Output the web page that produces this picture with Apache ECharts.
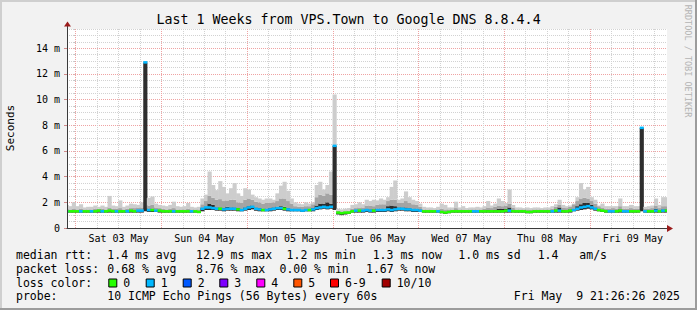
<!DOCTYPE html>
<html><head><meta charset="utf-8">
<script src="https://cdn.jsdelivr.net/npm/echarts@6/dist/echarts.min.js"></script>
<style>html,body{margin:0;padding:0;background:#f2f2f2}#c{width:697px;height:310px}</style>
</head><body><div id="c"></div>
<script>
// ---------------- data ----------------
const chartTitle = 'Last 1 Weeks from VPS.Town to Google DNS 8.8.4.4';
const yTitle = 'Seconds';
const watermark = 'RRDTOOL / TOBI OETIKER';
const dayLabels = ['Sat 03 May','Sun 04 May','Mon 05 May','Tue 06 May','Wed 07 May','Thu 08 May','Fri 09 May'];
const dayNoon = [12, 36, 60, 84, 108, 132, 156];          // hours since Sat 03 May 00:00
const dayStart = [0, 24, 48, 72, 96, 120, 144];
const quarterLines = [6,12,18,30,36,42,54,60,66,78,84,90,102,108,114,126,132,138,150,156,162];
const xMin = -2.433, xMax = 165.567;                      // Fri 21:26 -> Fri 21:26
const yMax = 15.5;
const firstHour = -3;                                     // hour of the first sample (1 h steps)

// median rtt (ms), per hour
const med = [
 1.3,1.3,1.3,1.3,
 1.3,1.3,1.3,1.3,1.3,1.3,1.35,1.3,1.3,1.35,1.3,1.3,1.3,1.3,1.3,1.35,1.3,1.35,1.35,12.9,1.4,1.4,1.35,1.35,
 1.3,1.3,1.3,1.3,1.3,1.3,1.3,1.3,1.3,1.3,1.25,1.5,1.6,1.6,1.55,1.5,1.5,1.45,1.5,1.5,1.5,1.45,1.4,1.5,
 1.6,1.65,1.5,1.45,1.4,1.4,1.45,1.5,1.55,1.55,1.5,1.45,1.4,1.4,1.4,1.35,1.4,1.4,1.45,1.55,1.6,1.65,1.6,1.65,
 6.4,1.2,1.15,1.2,1.2,1.3,1.35,1.35,1.35,1.4,1.35,1.35,1.4,1.4,1.4,1.45,1.4,1.45,1.5,1.5,1.45,1.45,1.4,1.4,
 1.35,1.3,1.3,1.3,1.3,1.3,1.25,1.2,1.25,1.3,1.3,1.3,1.3,1.3,1.3,1.3,1.3,1.3,1.3,1.3,1.3,1.3,1.3,1.3,
 1.35,1.35,1.3,1.3,1.3,1.3,1.25,1.25,1.3,1.3,1.3,1.3,1.3,1.3,1.35,1.35,1.3,1.3,1.35,1.4,1.5,1.6,1.65,1.7,
 1.6,1.5,1.4,1.35,1.3,1.3,1.3,1.3,1.35,1.3,1.3,1.3,1.3,1.3,7.8,1.3,1.3,1.3,1.35,1.3,1.35,1.35
];
// lost pings (of 10), per hour
const loss = [
 0,1,0,0,
 0,1,0,0,1,0,0,1,0,0,0,1,0,0,1,0,0,1,1,1,1,0,1,0,
 0,0,0,1,0,0,0,0,1,0,0,1,1,1,1,1,0,1,1,1,1,0,1,1,
 1,1,1,1,0,1,1,1,1,1,0,1,1,1,1,1,1,0,1,1,1,1,1,1,
 1,0,0,0,0,0,1,0,1,1,1,0,1,1,1,1,1,1,1,1,1,1,1,1,
 1,0,0,0,0,1,0,0,0,0,0,0,0,0,0,1,1,0,0,0,0,0,0,0,
 0,1,0,0,0,0,0,0,0,0,0,0,0,1,0,1,0,0,0,1,1,1,1,1,
 1,1,0,0,0,1,1,0,0,1,1,0,0,0,1,1,0,0,1,0,1,0
];
// smoke: lowest ping, top of dark band, top of mid band, highest ping (ms)
const smokeLo = [
 1.2,1.2,1.2,1.2,
 1.2,1.2,1.2,1.2,1.2,1.2,1.2,1.2,1.2,1.2,1.2,1.2,1.2,1.2,1.2,1.2,1.2,1.2,1.2,1.3,1.25,1.25,1.25,1.2,
 1.2,1.2,1.2,1.2,1.2,1.2,1.2,1.2,1.2,1.2,1.2,1.3,1.4,1.4,1.4,1.35,1.35,1.3,1.35,1.35,1.35,1.3,1.3,1.35,
 1.4,1.45,1.35,1.3,1.3,1.3,1.3,1.35,1.4,1.4,1.35,1.3,1.3,1.3,1.3,1.25,1.3,1.3,1.3,1.4,1.45,1.5,1.45,1.5,
 1.4,1.05,1.0,1.05,1.1,1.2,1.2,1.2,1.2,1.25,1.2,1.2,1.25,1.25,1.25,1.3,1.25,1.3,1.35,1.35,1.3,1.3,1.25,1.25,
 1.25,1.2,1.2,1.2,1.2,1.2,1.15,1.1,1.15,1.2,1.2,1.2,1.2,1.2,1.2,1.2,1.2,1.2,1.2,1.2,1.2,1.2,1.2,1.2,
 1.2,1.2,1.2,1.2,1.2,1.2,1.15,1.15,1.2,1.2,1.2,1.2,1.2,1.2,1.2,1.2,1.2,1.2,1.2,1.3,1.35,1.4,1.45,1.5,
 1.45,1.35,1.3,1.25,1.2,1.2,1.2,1.2,1.2,1.2,1.2,1.2,1.2,1.2,1.3,1.2,1.2,1.2,1.2,1.2,1.2,1.2
];
const smokeDark = [
 1.3,1.3,1.3,1.3,
 1.3,1.3,1.3,1.3,1.3,1.3,1.35,1.3,1.3,1.35,1.3,1.3,1.3,1.3,1.3,1.35,1.3,1.35,1.35,12.9,1.5,1.5,1.35,1.35,
 1.3,1.3,1.3,1.3,1.3,1.3,1.3,1.3,1.3,1.3,1.25,1.55,1.65,1.9,1.8,1.6,1.6,1.55,1.65,1.6,1.6,1.55,1.5,1.6,
 1.7,1.75,1.6,1.55,1.5,1.5,1.55,1.6,1.65,1.7,1.65,1.55,1.5,1.45,1.45,1.4,1.45,1.45,1.55,1.75,1.9,1.9,2.0,1.9,
 6.4,1.2,1.15,1.2,1.2,1.35,1.4,1.4,1.4,1.45,1.45,1.45,1.5,1.5,1.5,1.7,1.75,1.7,1.6,1.6,1.6,1.55,1.5,1.5,
 1.45,1.3,1.3,1.3,1.3,1.3,1.25,1.2,1.25,1.3,1.35,1.3,1.3,1.3,1.3,1.3,1.3,1.3,1.3,1.4,1.35,1.4,1.5,1.5,
 1.5,1.6,1.4,1.3,1.3,1.3,1.25,1.25,1.3,1.3,1.3,1.3,1.3,1.35,1.45,1.6,1.4,1.35,1.45,1.5,1.7,1.85,1.95,1.95,
 1.8,1.6,1.5,1.4,1.3,1.3,1.35,1.3,1.45,1.3,1.3,1.35,1.3,1.3,7.8,1.3,1.3,1.3,1.5,1.35,1.45,1.45
];
const smokeMid = [
 1.45,1.5,1.45,1.5,
 1.45,1.5,1.45,1.45,1.45,1.5,1.5,1.5,1.45,1.6,1.5,1.5,1.55,1.45,1.5,1.55,1.55,1.6,1.6,12.9,1.75,1.8,1.6,1.55,
 1.5,1.45,1.5,1.55,1.45,1.45,1.45,1.5,1.45,1.45,1.45,1.85,2.1,2.5,2.35,2.2,2.25,2.1,2.15,2.2,2.2,2.0,1.95,2.2,
 2.3,2.2,2.05,2.0,1.9,1.95,1.95,2.0,2.1,2.3,2.3,2.1,1.9,1.7,1.65,1.65,1.7,1.7,1.85,2.4,2.6,2.5,2.7,2.6,
 6.4,1.35,1.3,1.3,1.35,1.5,1.55,1.6,1.6,1.75,1.75,1.7,1.8,1.85,1.85,2.1,2.2,2.2,1.95,1.95,2.1,1.95,1.85,1.8,
 1.65,1.45,1.45,1.45,1.4,1.45,1.5,1.45,1.45,1.45,1.55,1.45,1.45,1.4,1.45,1.45,1.45,1.45,1.5,1.6,1.55,1.65,1.75,1.7,
 1.75,1.9,1.6,1.45,1.45,1.45,1.45,1.4,1.45,1.45,1.45,1.45,1.45,1.5,1.65,1.8,1.6,1.55,1.65,1.85,2.1,2.3,2.35,2.3,
 2.1,1.9,1.7,1.6,1.5,1.5,1.55,1.5,1.7,1.5,1.5,1.55,1.5,1.5,7.8,1.5,1.5,1.55,1.75,1.55,1.7,1.7
];
const smokeHi = [
 1.7,1.8,1.7,2.0,
 1.7,1.85,1.6,1.65,1.65,1.75,1.65,1.75,1.65,2.5,1.75,1.7,2.15,1.65,1.75,1.9,1.85,1.8,2.0,13.0,2.35,2.45,1.9,1.8,
 1.75,1.7,1.8,2.05,1.7,1.65,1.7,1.95,1.65,1.6,1.65,2.3,2.6,4.4,3.35,2.95,3.65,3.2,2.7,3.1,3.5,2.7,2.5,3.1,
 3.0,2.6,2.4,2.3,2.2,2.3,2.3,2.2,2.7,3.3,3.6,2.9,2.3,2.0,1.9,1.85,2.0,1.9,2.0,3.35,3.6,3.0,3.35,4.4,
 10.4,1.5,1.45,1.5,1.55,1.8,1.85,2.0,1.85,2.2,2.1,2.2,2.15,2.3,2.2,2.4,3.2,3.7,2.2,2.3,2.85,2.4,2.2,2.1,
 1.9,1.65,1.6,1.6,1.55,1.65,1.9,1.8,1.6,1.6,2.05,1.6,1.7,1.55,1.6,1.6,1.65,1.6,1.7,2.1,1.75,1.9,2.3,2.1,
 1.95,3.0,1.8,1.6,1.6,1.55,1.6,1.55,1.6,1.6,1.55,1.6,1.6,1.7,1.85,2.2,1.8,1.7,1.75,1.9,2.4,3.5,3.0,3.2,
 2.4,2.2,1.75,1.9,1.7,1.7,1.7,1.7,2.3,1.7,1.7,1.8,1.7,1.7,7.8,1.65,1.7,1.75,2.3,1.8,2.4,2.4
];
// legend
const lossLabels = ['0','1','2','3','4','5','6-9','10/10'];
const lossColors = ['#26ff00','#00b8ff','#0059ff','#7e00ff','#ff00ff','#ff5500','#ff0000','#a10000'];
const rttStats = ['1.4 ms avg','12.9 ms max','1.2 ms min','1.3 ms now','1.0 ms sd','1.4','am/s'];
const lossStats = ['0.68 % avg','8.76 % max','0.00 % min','1.67 % now'];
const probeText = '10 ICMP Echo Pings (56 Bytes) every 60s';
const stampText = 'Fri May\u00a0 9 21:26:26 2025';

// ---------------- layout / style ----------------
const FONT = "'DejaVu Sans Mono', monospace";
const G = {left: 67, top: 29, width: 600, height: 199};
const MINOR = '#d2d2d2', MAJOR = '#efa3a3', AXIS = '#3a3a3a', ARROW = '#9b1c1c';
const SMOKE = ['#2e2e2e', '#a4a4a4', '#cdcdcd'];
const rttX = [107.3, 196, 286.6, 372.7, 458.3, 537.7, 579.3];
const lossX = [107.3, 196, 279.5, 366];
const boxX = [108.3, 145.7, 182.7, 219.3, 256.3, 293.3, 330, 381.7];
const rowY = [255, 268.5, 282.5, 296];

const hours = med.map((_, i) => firstHour + i);

const vlines = [];
quarterLines.forEach(h => vlines.push({xAxis: h, lineStyle: {color: MINOR, type: [1, 1], width: 1}}));
dayStart.forEach(h => vlines.push({xAxis: h, lineStyle: {color: MAJOR, type: [1, 1], width: 1}}));

function txt(x, y, s, opt) {
  opt = opt || {};
  return {type: 'text', x, y, rotation: opt.rot || 0, silent: true, z: 10,
    style: {text: s, font: (opt.size || 11.5) + 'px ' + FONT, fill: opt.color || '#000',
      align: opt.align || 'left', textAlign: opt.align || 'left',
      verticalAlign: 'middle', textVerticalAlign: 'middle'}};
}
const graphics = [
  {type: 'rect', shape: {x: 0, y: 0, width: 697, height: 2}, style: {fill: '#cfcfcf'}, silent: true},
  {type: 'rect', shape: {x: 0, y: 0, width: 2, height: 310}, style: {fill: '#cfcfcf'}, silent: true},
  {type: 'rect', shape: {x: 0, y: 308, width: 697, height: 2}, style: {fill: '#9c9c9c'}, silent: true},
  {type: 'rect', shape: {x: 695, y: 0, width: 2, height: 310}, style: {fill: '#9c9c9c'}, silent: true},
  txt(348.5, 19, chartTitle, {size: 13.3, align: 'center'}),
  txt(10.5, 128, yTitle, {size: 11, align: 'center', rot: Math.PI / 2}),
  txt(688, 61, watermark, {size: 8.5, align: 'center', rot: -Math.PI / 2, color: '#b4b4b4'}),
  // y axis line (on top of the graph) + arrows
  {type: 'line', shape: {x1: 67.5, y1: 228.5, x2: 67.5, y2: 26}, style: {stroke: AXIS, lineWidth: 1}, silent: true, z: 10},
  {type: 'polygon', shape: {points: [[64, 26.5], [71, 26.5], [67.5, 21.5]]}, style: {fill: ARROW}, silent: true, z: 10},
  {type: 'polygon', shape: {points: [[667, 225], [667, 232], [673, 228.5]]}, style: {fill: ARROW}, silent: true, z: 10},
  // legend
  txt(16, rowY[0], 'median rtt:'),
  txt(16, rowY[1], 'packet loss:'),
  txt(16, rowY[2], 'loss color:'),
  txt(16, rowY[3], 'probe:'),
  txt(107.3, rowY[3], probeText),
  txt(680, rowY[3], stampText, {align: 'right'})
];
rttStats.forEach((s, i) => graphics.push(txt(rttX[i], rowY[0], s)));
lossStats.forEach((s, i) => graphics.push(txt(lossX[i], rowY[1], s)));
lossLabels.forEach((s, i) => {
  graphics.push({type: 'rect', shape: {x: boxX[i] + 0.5, y: rowY[2] - 3.5, width: 8, height: 8},
    style: {fill: lossColors[i], stroke: '#000', lineWidth: 1}, silent: true, z: 10});
  graphics.push(txt(boxX[i] + 15, rowY[2], s));
});

const option = {
  animation: false,
  backgroundColor: '#f2f2f2',
  grid: Object.assign({show: true, backgroundColor: '#ffffff', borderWidth: 0}, G),
  xAxis: [{
    type: 'value', min: xMin, max: xMax, z: 6,
    axisLine: {show: true, lineStyle: {color: AXIS, width: 1}},
    axisTick: {show: false},
    splitLine: {show: false},
    axisLabel: {customValues: dayNoon, margin: 5, color: '#000', fontFamily: FONT, fontSize: 10,
      formatter: v => dayLabels[dayNoon.indexOf(v)] || ''}
  }],
  yAxis: [{
    type: 'value', position: 'left', min: 0, max: yMax, interval: 0.5, z: 0,
    axisLine: {show: false}, axisLabel: {show: false},
    axisTick: {show: true, length: 2, lineStyle: {color: '#c4c4c4'}},
    splitLine: {show: true, showMinLine: false, showMaxLine: true, lineStyle: {color: MINOR, type: [1, 1], width: 1}}
  }, {
    type: 'value', position: 'left', min: 0, max: yMax, interval: 2, z: 1,
    axisLine: {show: true, onZero: false, lineStyle: {color: AXIS, width: 1}},
    axisTick: {show: true, length: 3, lineStyle: {color: '#d08a8a'}},
    splitLine: {show: true, showMinLine: false, showMaxLine: false, lineStyle: {color: MAJOR, type: [1, 1], width: 1}},
    axisLabel: {margin: 7, color: '#000', fontFamily: FONT, fontSize: 10, showMaxLabel: false,
      formatter: v => (v % 2 !== 0 ? '' : (v === 0 ? '0' : v + ' m'))}
  }],
  graphic: graphics,
  series: [
    {
      type: 'line', name: 'grid', data: [], z: 1, silent: true, xAxisIndex: 0, yAxisIndex: 1,
      markLine: {silent: true, z: 1, symbol: ['none', 'none'], label: {show: false}, animation: false, data: vlines}
    },
    {
      type: 'custom', name: 'smoke', z: 2, clip: true, silent: true, xAxisIndex: 0, yAxisIndex: 1,
      encode: {x: 0, y: [1, 2, 3, 4]},
      data: hours.map((h, i) => [h, smokeLo[i], smokeDark[i], smokeMid[i], smokeHi[i]]),
      renderItem: function (params, api) {
        const h = api.value(0);
        const levels = [api.value(1), api.value(2), api.value(3), api.value(4)];
        const children = [];
        for (let k = 0; k < 3; k++) {
          if (levels[k + 1] <= levels[k]) continue;
          const a = api.coord([h - 1, levels[k + 1]]), b = api.coord([h, levels[k]]);
          children.push({type: 'rect', shape: {x: a[0] - 0.3, y: a[1], width: b[0] - a[0] + 0.6, height: b[1] - a[1]},
            style: {fill: SMOKE[k]}});
        }
        return {type: 'group', children};
      }
    },
    {
      type: 'custom', name: 'median', z: 3, clip: true, silent: true, xAxisIndex: 0, yAxisIndex: 1,
      encode: {x: 0, y: 1},
      data: med.map((v, i) => [hours[i], v, loss[i]]),
      renderItem: function (params, api) {
        const h = api.value(0), v = api.value(1), c = lossColors[api.value(2)];
        const a = api.coord([h - 1, v]), b = api.coord([h, v]);
        return {type: 'rect', shape: {x: a[0] - 0.25, y: a[1] - 1.25, width: b[0] - a[0] + 0.5, height: 2.5},
          style: {fill: c}};
      }
    }
  ]
};
const chart = echarts.init(document.getElementById('c'), null, {renderer: 'svg', width: 697, height: 310});
chart.setOption(option);
</script>
</body></html>
